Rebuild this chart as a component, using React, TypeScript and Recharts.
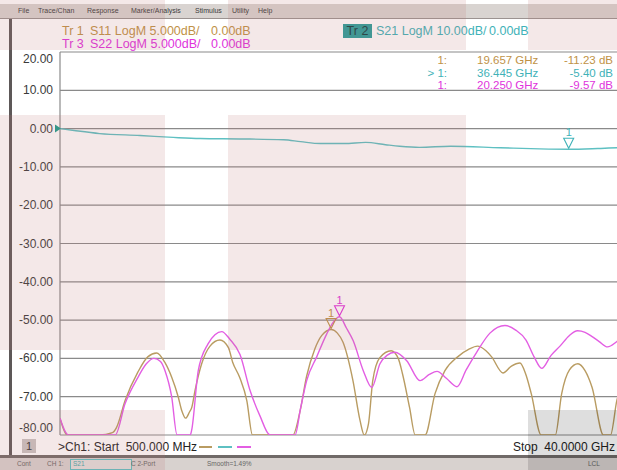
import React from 'react';
import { LineChart, Line, XAxis, YAxis, CartesianGrid, ReferenceDot } from 'recharts';

const FONT = '"Liberation Sans", Arial, sans-serif';

// stimulus 500 MHz .. 40 GHz, 10 divisions
const freqTicks = [0.5, 4.45, 8.4, 12.35, 16.3, 20.25, 24.2, 28.15, 32.1, 36.05, 40];
// Tr 2 (S21) scale, 10 dB/div, this is the one labelled on screen
const s21Ticks = [20, 10, 0, -10, -20, -30, -40, -50, -60, -70, -80];
// Tr 1 / Tr 3 scale, 5 dB/div
const reflDomain = [-25, 25];

const s21Freq = [0.5, 1.5, 3.3, 6.15, 8.5, 10.4, 13.2, 16.3, 17.5, 18.9, 20.6, 22.1, 23.5, 24.5, 25.9, 28.1, 31.6, 34.4, 36.45, 38.5, 39.86, 40];
const s21Db = [0, -0.5, -1.3, -1.8, -2.3, -2.6, -2.7, -2.9, -3.4, -3.9, -3.9, -3.6, -4.2, -4.6, -4.9, -4.6, -5.0, -5.3, -5.4, -5.2, -5.0, -5.0];

const s11Freq = [0.5, 1.0, 3.3, 4.2, 4.5, 5.1, 6.0, 6.7, 7.33, 7.9, 8.4, 8.85, 9.1, 9.38, 9.65, 9.81, 10.04, 10.51, 11.1, 11.8, 12.4, 12.7, 13.2, 13.7, 14.1, 16.96, 17.45, 17.93, 18.5, 19.0, 19.66, 20.1, 20.5, 21.2, 21.7, 22.0, 22.3, 22.6, 23.1, 23.9, 24.4, 24.7, 25.2, 25.6, 26.3, 27.0, 27.7, 28.6, 29.4, 30.0, 30.6, 31.0, 31.8, 32.4, 33.0, 33.4, 33.8, 34.5, 35.5, 35.95, 36.5, 37.1, 37.6, 38.1, 38.9, 39.4, 39.86, 40];
const s11Db = [-22.8, -25, -25, -24.7, -24.0, -20.5, -16.8, -14.8, -14.3, -15.5, -17.5, -20.0, -21.8, -22.8, -22.0, -21.4, -19.2, -15.7, -13.4, -12.6, -13.6, -15.5, -17.5, -20.5, -25, -25, -22.0, -17.3, -13.8, -12.0, -11.23, -11.7, -12.9, -17.9, -23.1, -25, -23.5, -17.9, -14.9, -14.0, -15.0, -17.0, -21.4, -25, -25, -19.6, -16.6, -14.8, -13.8, -13.4, -14.0, -14.8, -16.9, -16.0, -15.6, -17.0, -19.6, -25, -25, -19.6, -16.5, -15.7, -16.6, -18.8, -25, -25, -20.4, -19.5];

const s22Freq = [0.5, 1.1, 4.4, 5.1, 6.0, 6.6, 7.14, 7.6, 7.92, 8.39, 8.77, 9.7, 9.8, 10.27, 10.96, 11.45, 11.93, 12.5, 13.22, 13.93, 14.63, 15.34, 17.11, 17.5, 17.93, 18.64, 19.35, 19.8, 20.25, 20.73, 21.22, 21.93, 22.53, 23.11, 23.6, 24.17, 25.0, 25.94, 26.6, 27.14, 27.8, 28.55, 29.2, 29.94, 30.88, 31.94, 32.7, 33.43, 34.0, 34.54, 35.2, 35.83, 36.5, 37.07, 37.6, 38.13, 38.6, 39.19, 39.85, 40];
const s22Db = [-22.8, -25, -25, -20.9, -17.5, -15.7, -15.0, -15.4, -16.6, -20.0, -25, -25, -24.4, -16.6, -13.1, -11.9, -11.5, -12.5, -14.5, -19.2, -22.5, -25, -25, -21.5, -17.9, -14.8, -11.8, -10.3, -9.57, -11.0, -12.7, -16.6, -18.8, -15.7, -14.6, -14.2, -15.3, -17.9, -17.1, -16.7, -17.6, -18.7, -16.5, -14.2, -11.7, -10.7, -11.3, -12.6, -14.8, -16.3, -14.6, -13.4, -12.0, -11.4, -11.6, -12.2, -12.8, -13.5, -12.8, -12.6];

// marker 1 on each trace
const markerTrace = ['S11', 'S21', 'S22'];
const markerTag = ['1:', '> 1:', '1:'];
const markerFreq = [19.657, 36.445, 20.25];
const markerDb = [-11.23, -5.4, -9.57];

const lineColor: Record<string, string> = { S11: '#b99c62', S21: '#5ec0c2', S22: '#e35ee3' };
const textColor: Record<string, string> = { S11: '#bf9247', S21: '#3fb2b8', S22: '#e033dc' };

const s21Data = s21Freq.map((f, i) => ({ f, v: s21Db[i] }));
const s11Data = s11Freq.map((f, i) => ({ f, v: s11Db[i] }));
const s22Data = s22Freq.map((f, i) => ({ f, v: s22Db[i] }));

const DbTick = (props: any) => {
  const { x, y, payload } = props;
  let dy = 4;
  if (payload.value === 20) dy = 11;
  if (payload.value === -80) dy = -3;
  return (
    <text x={x} y={y} dy={dy} textAnchor="end" fontSize={12} fill="#3a3a3a" fontFamily={FONT}>
      {payload.value.toFixed(2)}
    </text>
  );
};

const markerShape = (color: string) => (props: any) => {
  const { cx, cy } = props;
  return (
    <g>
      <polygon
        points={`${cx - 5},${cy - 11} ${cx + 5},${cy - 11} ${cx},${cy - 1}`}
        fill="none"
        stroke={color}
        strokeWidth={1.1}
      />
      <text x={cx} y={cy - 13} textAnchor="middle" fontSize={11} fill={color} fontFamily={FONT}>1</text>
    </g>
  );
};

const refArrow = (props: any) => {
  const { cx, cy } = props;
  return <polygon points={`${cx - 5},${cy - 4} ${cx + 1},${cy} ${cx - 5},${cy + 4}`} fill="#1b9d8c" />;
};

const abs = (left: number, top: number, extra: React.CSSProperties = {}): React.CSSProperties => ({
  position: 'absolute',
  left,
  top,
  whiteSpace: 'pre',
  ...extra,
});

const overlays = [
  { x: 0, y: 0, w: 165, h: 50, c: 'rgba(190,120,120,0.17)' },
  { x: 228, y: 0, w: 238, h: 50, c: 'rgba(190,120,120,0.17)' },
  { x: 528, y: 0, w: 89, h: 50, c: 'rgba(190,120,120,0.17)' },
  { x: 0, y: 115, w: 165, h: 235, c: 'rgba(190,120,120,0.17)' },
  { x: 228, y: 115, w: 238, h: 235, c: 'rgba(190,120,120,0.17)' },
  { x: 0, y: 410, w: 165, h: 60, c: 'rgba(190,120,120,0.17)' },
  { x: 528, y: 410, w: 89, h: 60, c: 'rgba(0,0,0,0.13)' },
];

const menuItems = [
  { t: 'File', x: 18 },
  { t: 'Trace/Chan', x: 38 },
  { t: 'Response', x: 87 },
  { t: 'Marker/Analysis', x: 131 },
  { t: 'Stimulus', x: 195 },
  { t: 'Utility', x: 232 },
  { t: 'Help', x: 258 },
];

const App: React.FC = () => {
  const hdr = (color: string): React.CSSProperties => ({ fontSize: 12.5, color, lineHeight: '14px' });
  return (
    <div style={{ position: 'fixed', left: 0, top: 0, width: 617, height: 470, overflow: 'hidden', background: '#fff', fontFamily: FONT }}>
      {/* menu bar */}
      <div style={abs(0, 4, { width: 617, height: 14, background: '#d9d4d1', borderBottom: '1px solid #9b9391' })}>
        {menuItems.map(m => (
          <span key={m.t} style={abs(m.x, 3, { fontSize: 7, color: '#3a3a3a', lineHeight: '8px' })}>{m.t}</span>
        ))}
      </div>
      {/* window frame */}
      <div style={abs(9, 19, { width: 3, height: 437, background: '#5d5858' })} />

      {/* trace titles */}
      <span style={abs(62, 24, hdr(textColor.S11))}>Tr 1</span>
      <span style={abs(90, 24, hdr(textColor.S11))}>S11 LogM 5.000dB/</span>
      <span style={abs(211, 24, hdr(textColor.S11))}>0.00dB</span>
      <span style={abs(62, 37, hdr(textColor.S22))}>Tr 3</span>
      <span style={abs(90, 37, hdr(textColor.S22))}>S22 LogM 5.000dB/</span>
      <span style={abs(211, 37, hdr(textColor.S22))}>0.00dB</span>
      <span style={abs(343, 24, { ...hdr('#123f3f'), width: 29, height: 14, background: '#2a9e9b', textAlign: 'center' })}>Tr 2</span>
      <span style={abs(376, 24, hdr(textColor.S21))}>S21 LogM 10.00dB/</span>
      <span style={abs(489, 24, hdr(textColor.S21))}>0.00dB</span>

      <div style={abs(0, 0)}>
        <LineChart width={640} height={470} margin={{ top: 52, right: 21, bottom: 35, left: 0 }}>
          <CartesianGrid stroke="#8a8a8a" strokeWidth={1.2} />
          <XAxis
            type="number"
            dataKey="f"
            domain={[0.5, 40]}
            ticks={freqTicks}
            allowDataOverflow
            tick={false}
            tickLine={false}
            axisLine={false}
            height={0}
          />
          <YAxis
            type="number"
            domain={[-80, 20]}
            ticks={s21Ticks}
            allowDataOverflow
            width={60}
            tickSize={5}
            tickMargin={2}
            tickLine={false}
            axisLine={false}
            tick={<DbTick />}
          />
          <YAxis yAxisId="refl" type="number" domain={reflDomain} allowDataOverflow hide />
          <Line data={s11Data} dataKey="v" yAxisId="refl" type="monotone" stroke={lineColor.S11} strokeWidth={1.4} dot={false} isAnimationActive={false} />
          <Line data={s21Data} dataKey="v" type="monotone" stroke={lineColor.S21} strokeWidth={1.4} dot={false} isAnimationActive={false} />
          <Line data={s22Data} dataKey="v" yAxisId="refl" type="monotone" stroke={lineColor.S22} strokeWidth={1.4} dot={false} isAnimationActive={false} />
          <ReferenceDot x={0.5} y={0} ifOverflow="visible" shape={refArrow} />
          {markerTrace.map((tr, i) => (
            <ReferenceDot
              key={tr}
              x={markerFreq[i]}
              y={markerDb[i]}
              yAxisId={tr === 'S21' ? 0 : 'refl'}
              ifOverflow="visible"
              shape={markerShape(textColor[tr])}
            />
          ))}
        </LineChart>
      </div>

      {/* marker readout */}
      {markerTrace.map((tr, i) => {
        const top = 54 + i * 12.5;
        const st: React.CSSProperties = { fontSize: 11.5, color: textColor[tr], lineHeight: '13px' };
        return (
          <React.Fragment key={tr}>
            <span style={abs(410, top, { ...st, width: 37, textAlign: 'right' })}>{markerTag[i]}</span>
            <span style={abs(477, top, st)}>{`${markerFreq[i].toFixed(3)} GHz`}</span>
            <span style={abs(543, top, { ...st, width: 70, textAlign: 'right' })}>{`${markerDb[i].toFixed(2)} dB`}</span>
          </React.Fragment>
        );
      })}

      {/* channel line */}
      <span style={abs(22, 439, { width: 14, height: 14, background: '#c9c4c3', fontSize: 11, lineHeight: '14px', textAlign: 'center', color: '#333' })}>1</span>
      <span style={abs(58, 440, { fontSize: 12, lineHeight: '14px', color: '#222' })}>{'>Ch1: Start  500.000 MHz'}</span>
      <div style={abs(199, 446, { width: 13, height: 2, background: lineColor.S11 })} />
      <div style={abs(218, 446, { width: 14, height: 2, background: lineColor.S21 })} />
      <div style={abs(237, 446, { width: 14, height: 2, background: lineColor.S22 })} />
      <span style={abs(500, 440, { width: 115, fontSize: 12, lineHeight: '14px', color: '#222', textAlign: 'right' })}>{'Stop  40.0000 GHz'}</span>

      {/* status bar */}
      <div style={abs(0, 455, { width: 617, height: 3, background: '#706a68' })} />
      <div style={abs(0, 458, { width: 617, height: 12, background: '#d8d2cf' })}>
        <span style={abs(17, 2, { fontSize: 6.5, color: '#666' })}>Cont</span>
        <span style={abs(47, 2, { fontSize: 6.5, color: '#666' })}>CH 1:</span>
        <span style={abs(70, 1, { width: 58, height: 9, border: '1px solid #5ec0c2', background: '#e4e0de', fontSize: 6.5, color: '#4aa', paddingLeft: 2 })}>S21</span>
        <span style={abs(131, 2, { fontSize: 6.5, color: '#666' })}>C 2-Port</span>
        <span style={abs(207, 2, { fontSize: 6.5, color: '#666' })}>Smooth=1.49%</span>
        <span style={abs(588, 2, { fontSize: 6.5, color: '#666' })}>LCL</span>
      </div>

      {/* tinted blocks in the photo */}
      {overlays.map((o, i) => (
        <div key={i} style={abs(o.x, o.y, { width: o.w, height: o.h, background: o.c, pointerEvents: 'none' })} />
      ))}
    </div>
  );
};

export default App;
